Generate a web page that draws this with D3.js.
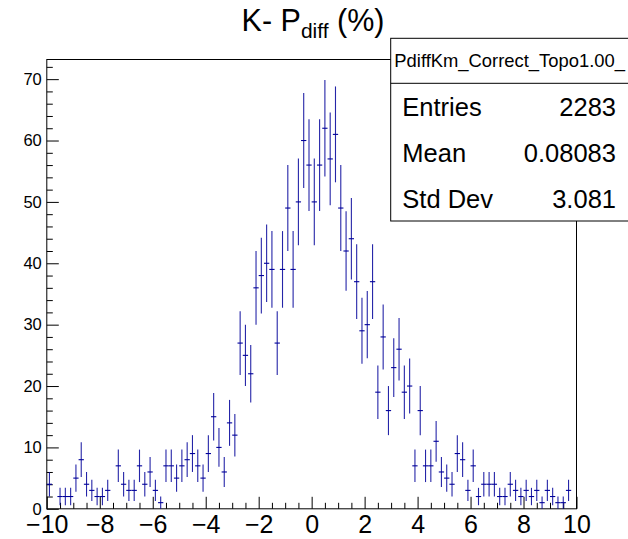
<!DOCTYPE html>
<html>
<head>
<meta charset="utf-8">
<script src="https://cdn.jsdelivr.net/npm/d3@7"></script>
<style>
  body { margin: 0; background: #fff; }
  svg { display: block; }
  text { font-family: "Liberation Sans", Arial, Helvetica, sans-serif; fill: #000; }
</style>
</head>
<body>
<svg id="chart" width="628" height="539"></svg>
<script>
// Histogram: K- momentum difference, 100 bins over [-10, 10]
const histName = "PdiffKm_Correct_Topo1.00_";
const xRange = [-10, 10];
const binWidth = 0.2;
const counts = [
  4, 0, 2, 2, 2, 5, 8, 4, 3, 2,
  2, 3, 0, 7, 4, 3, 3, 7, 4, 6,
  3, 1, 7, 7, 5, 7, 8, 9, 7, 5,
  9, 15, 10, 6, 14, 12, 27, 25, 22, 36,
  38, 40, 39, 27, 39, 49, 39, 50, 60, 56,
  50, 56, 62, 57, 61, 49, 42, 44, 37, 29,
  30, 37, 19, 28, 16, 23, 26, 19, 20, 7,
  16, 7, 7, 11, 6, 5, 4, 9, 8, 3,
  7, 2, 4, 4, 4, 2, 2, 4, 3, 2,
  3, 2, 3, 1, 3, 2, 1, 1, 3, 0
];
const xTickValues = [-10, -8, -6, -4, -2, 0, 2, 4, 6, 8, 10];
const yTickValues = [0, 10, 20, 30, 40, 50, 60, 70];
const yMax = 73.2;
const statLabels = ["Entries", "Mean", "Std Dev"];
const statValues = ["2283", "0.08083", "3.081"];

const svg = d3.select("#chart");
const frame = { left: 46.8, right: 576.5, top: 59.5, bottom: 508.8 };

const x = d3.scaleLinear().domain(xRange).range([frame.left, frame.right]);
const y = d3.scaleLinear().domain([0, yMax]).range([frame.bottom, frame.top]);

// Title with subscript
const title = svg.append("text")
  .attr("x", 313).attr("y", 31)
  .attr("text-anchor", "middle")
  .style("font-size", "30.5px");
title.append("tspan").text("K- P");
title.append("tspan").attr("dy", 7).style("font-size", "21px").text("diff");
title.append("tspan").attr("dy", -7).text(" (%)");

// Frame
svg.append("rect")
  .attr("x", frame.left).attr("y", frame.top)
  .attr("width", frame.right - frame.left)
  .attr("height", frame.bottom - frame.top)
  .attr("fill", "none").attr("stroke", "#000").attr("stroke-width", 1);

// X axis: major ticks with labels, minor ticks every 0.5
const xMinor = d3.range(xRange[0], xRange[1] + 0.001, 0.5).filter(v => !xTickValues.includes(v));
const gxMinor = svg.append("g")
  .attr("transform", `translate(0,${frame.bottom})`)
  .call(d3.axisBottom(x).tickValues(xMinor).tickSizeInner(-6).tickSizeOuter(0).tickFormat(""));
const gx = svg.append("g")
  .attr("transform", `translate(0,${frame.bottom})`)
  .call(d3.axisBottom(x).tickValues(xTickValues).tickSizeInner(-12).tickSizeOuter(0).tickPadding(6));
gx.selectAll("text").style("font-size", "25px").attr("font-family", null);

// Y axis: major ticks every 10, minor every 2
const yMinor = d3.range(0, 73, 2).filter(v => !yTickValues.includes(v));
const gyMinor = svg.append("g")
  .attr("transform", `translate(${frame.left},0)`)
  .call(d3.axisLeft(y).tickValues(yMinor).tickSizeInner(-6).tickSizeOuter(0).tickFormat(""));
const gy = svg.append("g")
  .attr("transform", `translate(${frame.left},0)`)
  .call(d3.axisLeft(y).tickValues(yTickValues).tickSizeInner(-12).tickSizeOuter(0).tickPadding(5));
gy.selectAll("text").style("font-size", "16.5px").attr("font-family", null);

[gxMinor, gx, gyMinor, gy].forEach(g => {
  g.select(".domain").remove();
  g.attr("color", "#000");
  g.selectAll("line").attr("stroke-width", 1);
});

// Histogram bins drawn with statistical error bars
const bins = counts.map((c, i) => ({
  lo: xRange[0] + i * binWidth,
  hi: xRange[0] + (i + 1) * binWidth,
  c
})).filter(d => d.c > 0);

const clampY = v => Math.max(0, Math.min(yMax, v));
const marks = svg.append("g").attr("stroke", "#00009a").attr("stroke-width", 1.1);
marks.selectAll("line.h").data(bins).join("line")
  .attr("class", "h")
  .attr("x1", d => x(d.lo)).attr("x2", d => x(d.hi))
  .attr("y1", d => y(d.c)).attr("y2", d => y(d.c));
marks.selectAll("line.v").data(bins).join("line")
  .attr("class", "v")
  .attr("x1", d => x((d.lo + d.hi) / 2)).attr("x2", d => x((d.lo + d.hi) / 2))
  .attr("y1", d => y(clampY(d.c - Math.sqrt(d.c))))
  .attr("y2", d => y(clampY(d.c + Math.sqrt(d.c))))
  .attr("opacity", 0.85);

// Statistics box
const box = { x: 390.7, y: 38.3, w: 250, h: 182.7, header: 45 };
const stats = svg.append("g");
stats.append("rect")
  .attr("x", box.x).attr("y", box.y).attr("width", box.w).attr("height", box.h)
  .attr("fill", "#fff").attr("stroke", "#000").attr("stroke-width", 1);
stats.append("line")
  .attr("x1", box.x).attr("x2", box.x + box.w)
  .attr("y1", box.y + box.header).attr("y2", box.y + box.header)
  .attr("stroke", "#000");
stats.append("text")
  .attr("x", 394.3).attr("y", 67)
  .style("font-size", "18.4px")
  .text(histName);
const rowH = (box.h - box.header) / statLabels.length;
statLabels.forEach((lab, i) => {
  const base = box.y + box.header + rowH * i + 33;
  stats.append("text").attr("x", 402.3).attr("y", base).style("font-size", "25.5px").text(lab);
  stats.append("text").attr("x", 616).attr("y", base).attr("text-anchor", "end")
    .style("font-size", "25.5px").text(statValues[i]);
});
</script>
</body>
</html>
